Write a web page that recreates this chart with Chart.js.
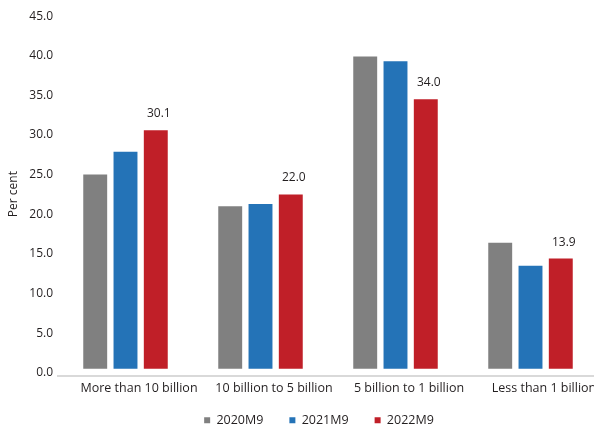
<!DOCTYPE html>
<html>
<head>
<meta charset="utf-8">
<script src="https://cdn.jsdelivr.net/npm/chart.js@4/dist/chart.umd.min.js"></script>
<style>
  html, body { margin: 0; padding: 0; background: #fff; overflow: hidden; }
  #c { display: block; }
</style>
</head>
<body>
<canvas id="c" width="598" height="431"></canvas>
<script>
// Share of deposits by bank size group, three observation dates
const categories = ['More than 10 billion', '10 billion to 5 billion', '5 billion to 1 billion', 'Less than 1 billion'];
const seriesNames = ['2020M9', '2021M9', '2022M9'];
const values2020M9 = [24.5, 20.5, 39.4, 15.9];
const values2021M9 = [27.4, 20.8, 38.8, 13.0];
const values2022M9 = [30.1, 22.0, 34.0, 13.9];
const yTicks = [0, 5, 10, 15, 20, 25, 30, 35, 40, 45];
const seriesColors = ['#808080', '#2473b7', '#c01f28'];

const TEXT = '#231f20';
const FONT = "'Open Sans', 'Noto Sans', sans-serif";

// Writes the value above each bar of the selected datasets
const barValueLabels = {
  id: 'barValueLabels',
  afterDatasetsDraw(chart, args, opts) {
    const { ctx } = chart;
    ctx.save();
    ctx.font = `${opts.size}px ${FONT}`;
    ctx.fillStyle = opts.color;
    ctx.textAlign = 'center';
    ctx.textBaseline = 'middle';
    (opts.datasets || []).forEach(di => {
      const meta = chart.getDatasetMeta(di);
      const data = chart.data.datasets[di].data;
      meta.data.forEach((bar, i) => {
        ctx.fillText(Number(data[i]).toFixed(1), bar.x + opts.dx, bar.y + opts.dy);
      });
    });
    ctx.restore();
  }
};

// Keeps the legend block compact, then moves it and lets it reach the canvas bottom
const legendPlacement = {
  id: 'legendPlacement',
  beforeLayout(chart, args, opts) {
    const lg = chart.legend;
    if (lg && !lg.$compactFit) {
      const baseFit = lg.fit;
      lg.fit = function () {
        baseFit.call(this);
        this.height = opts.height;
      };
      lg.$compactFit = true;
    }
  },
  afterLayout(chart, args, opts) {
    const lg = chart.legend;
    if (!lg) return;
    lg.left += opts.x; lg.right += opts.x;
    lg.top += opts.y; lg.bottom = chart.height;
  }
};

const datasets = [values2020M9, values2021M9, values2022M9].map((vals, k) => ({
  label: seriesNames[k],
  data: vals,
  backgroundColor: seriesColors[k],
  borderWidth: 0,
  categoryPercentage: 0.673,
  barPercentage: 0.79
}));

new Chart(document.getElementById('c'), {
  type: 'bar',
  data: { labels: categories, datasets },
  plugins: [barValueLabels, legendPlacement],
  options: {
    responsive: false,
    animation: false,
    devicePixelRatio: 1,
    layout: { padding: { top: 11, left: 0, right: 0, bottom: 0 } },
    scales: {
      x: {
        grid: { display: false, drawTicks: false },
        border: { display: true, color: '#d9d9d9', width: 2 },
        ticks: {
          color: TEXT,
          font: { family: FONT, size: 12.5 },
          padding: 5,
          labelOffset: 13.5,
          maxRotation: 0,
          autoSkip: false
        }
      },
      y: {
        min: -0.92,
        max: 45,
        grid: { display: false, drawTicks: false },
        border: { display: false },
        afterBuildTicks(scale) { scale.ticks = yTicks.map(v => ({ value: v })); },
        ticks: {
          color: TEXT,
          font: { family: FONT, size: 12 },
          padding: 5,
          labelOffset: 4,
          callback: v => Number(v).toFixed(1)
        },
        title: {
          display: true,
          text: 'Per cent',
          color: TEXT,
          font: { family: FONT, size: 12 },
          padding: { top: 6, bottom: 0 }
        },
        afterFit(scale) { scale.width = 58; }
      }
    },
    plugins: {
      legend: {
        position: 'bottom',
        labels: {
          boxWidth: 6,
          boxHeight: 6,
          padding: 26,
          color: TEXT,
          font: { family: FONT, size: 12.5 }
        }
      },
      tooltip: { enabled: false },
      barValueLabels: { datasets: [2], dx: 3, dy: -16.5, size: 12, color: TEXT },
      legendPlacement: { height: 30, x: 20, y: -13 }
    }
  }
});
</script>
</body>
</html>
